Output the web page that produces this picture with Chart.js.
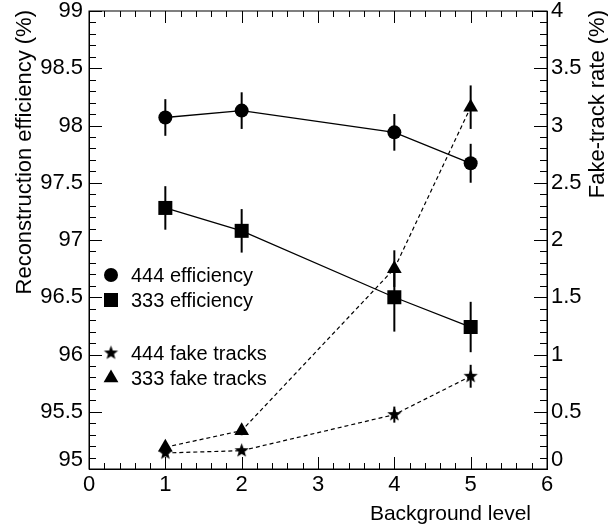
<!DOCTYPE html>
<html>
<head>
<meta charset="utf-8">
<script src="https://cdn.jsdelivr.net/npm/chart.js@4.4.1/dist/chart.umd.min.js"></script>
<style>
  html, body { margin: 0; padding: 0; background: #fff; }
  #wrap { width: 608px; height: 529px; }
</style>
</head>
<body>
<div id="wrap"><canvas id="effChart" width="608" height="529"></canvas></div>
<script>
// niveis de fundo (eixo x)
const levels = [1, 2, 4, 5];

// eficiencia de reconstrucao (%)
const eff444 = [98.07, 98.13, 97.94, 97.67];
const eff444Err = [0.16, 0.16, 0.16, 0.17];
const eff333 = [97.28, 97.08, 96.50, 96.24];
const eff333Err = [0.19, 0.19, 0.30, 0.22];

// taxa de tracks falsos (%)
const fake444 = [0.14, 0.16, 0.475, 0.81];
const fake444Err = [0.02, 0.02, 0.07, 0.10];
const fake333 = [0.19, 0.335, 1.75, 3.16];
const fake333Err = [0.03, 0.04, 0.16, 0.19];

// rotulos dos eixos
const xTickLabels = ['0', '1', '2', '3', '4', '5', '6'];
const effTickLabels = ['95', '95.5', '96', '96.5', '97', '97.5', '98', '98.5', '99'];
const fakeTickLabels = ['0', '0.5', '1', '1.5', '2', '2.5', '3', '3.5', '4'];

const FONT = '"Liberation Sans", Arial, Helvetica, sans-serif';

function toPoints(xs, ys) {
    return xs.map((x, i) => ({ x: x, y: ys[i] }));
}

// estrela preenchida (o 'star' do Chart.js e so contorno)
function makeStar(r) {
    const c = document.createElement('canvas');
    const s = Math.ceil(r * 2 + 2);
    c.width = s; c.height = s;
    const g = c.getContext('2d');
    g.fillStyle = '#000';
    g.beginPath();
    for (let k = 0; k < 10; k++) {
        const rr = k % 2 === 0 ? r : r * 0.42;
        const ang = -Math.PI / 2 + k * Math.PI / 5;
        const px = s / 2 + rr * Math.cos(ang);
        const py = s / 2 + rr * Math.sin(ang);
        if (k === 0) g.moveTo(px, py); else g.lineTo(px, py);
    }
    g.closePath();
    g.fill();
    return c;
}
const starImg = makeStar(7.5);

const datasets = [
    {
        label: '444 efficiency', data: toPoints(levels, eff444), err: eff444Err, yAxisID: 'y',
        pointStyle: 'circle', pointRadius: 7, borderWidth: 1.3, borderDash: []
    },
    {
        label: '333 efficiency', data: toPoints(levels, eff333), err: eff333Err, yAxisID: 'y',
        pointStyle: 'rect', pointRadius: 9.9, borderWidth: 1.3, borderDash: []
    },
    {
        label: '444 fake tracks', data: toPoints(levels, fake444), err: fake444Err, yAxisID: 'y2',
        pointStyle: starImg, pointRadius: 7.5, borderWidth: 1.2, borderDash: [4, 3]
    },
    {
        label: '333 fake tracks', data: toPoints(levels, fake333), err: fake333Err, yAxisID: 'y2',
        pointStyle: 'triangle', pointRadius: 8.5, borderWidth: 1.2, borderDash: [4, 3]
    }
].map(ds => Object.assign(ds, {
    borderColor: '#000', backgroundColor: '#000',
    pointBackgroundColor: '#000', pointBorderColor: '#000', pointBorderWidth: 0,
    pointHoverRadius: ds.pointRadius, showLine: true, tension: 0, fill: false
}));

// barras de erro, desenhadas antes dos marcadores
const errorBars = {
    id: 'errorBars',
    beforeDatasetsDraw(chart) {
        const ctx = chart.ctx;
        ctx.save();
        ctx.strokeStyle = '#000';
        ctx.lineWidth = 2;
        chart.data.datasets.forEach(ds => {
            const sc = chart.scales[ds.yAxisID];
            ds.data.forEach((p, i) => {
                const px = chart.scales.x.getPixelForValue(p.x);
                ctx.beginPath();
                ctx.moveTo(px, sc.getPixelForValue(p.y - ds.err[i]));
                ctx.lineTo(px, sc.getPixelForValue(p.y + ds.err[i]));
                ctx.stroke();
            });
        });
        ctx.restore();
    }
};

function drawMarker(ctx, style, x, y) {
    ctx.fillStyle = '#000';
    ctx.beginPath();
    if (style === 'circle') {
        ctx.arc(x, y, 7, 0, Math.PI * 2);
        ctx.fill();
    } else if (style === 'rect') {
        ctx.fillRect(x - 7, y - 7, 14, 14);
    } else if (style === 'triangle') {
        ctx.moveTo(x, y - 8.5);
        ctx.lineTo(x + 7.4, y + 4.25);
        ctx.lineTo(x - 7.4, y + 4.25);
        ctx.closePath();
        ctx.fill();
    } else {
        ctx.drawImage(style, x - style.width / 2, y - style.height / 2);
    }
}

// moldura com ticks para dentro, titulos, legenda
const frameDecor = {
    id: 'frameDecor',
    afterDraw(chart) {
        const { ctx, chartArea: a, scales } = chart;
        ctx.save();
        ctx.strokeStyle = '#000';
        ctx.lineWidth = 1;
        ctx.strokeRect(a.left, a.top, a.right - a.left, a.bottom - a.top);

        ctx.beginPath();
        for (let i = 0; i <= 30; i++) {
            const px = Math.round(scales.x.getPixelForValue(i * 0.2)) + 0.5;
            const len = i % 5 === 0 ? 12 : 6;
            ctx.moveTo(px, a.bottom); ctx.lineTo(px, a.bottom - len);
            ctx.moveTo(px, a.top); ctx.lineTo(px, a.top + len);
        }
        for (let i = 0; i <= 40; i++) {
            const len = i % 5 === 0 ? 13 : 7;
            const py = Math.round(scales.y.getPixelForValue(95 + i * 0.1)) + 0.5;
            ctx.moveTo(a.left, py); ctx.lineTo(a.left + len, py);
            const py2 = Math.round(scales.y2.getPixelForValue(i * 0.1)) + 0.5;
            ctx.moveTo(a.right, py2); ctx.lineTo(a.right - len, py2);
        }
        ctx.stroke();

        // rotulos do canto inferior, deslocados para cima como no original
        ctx.fillStyle = '#000';
        ctx.font = '22px ' + FONT;
        ctx.textBaseline = 'middle';
        ctx.textAlign = 'right';
        ctx.fillText(effTickLabels[0], a.left - 6, scales.y.getPixelForValue(95) - 9);
        ctx.textAlign = 'left';
        ctx.fillText(fakeTickLabels[0], a.right + 4, scales.y2.getPixelForValue(0) - 9);

        // titulos dos eixos
        ctx.font = '21px ' + FONT;
        ctx.textBaseline = 'alphabetic';
        ctx.textAlign = 'right';
        ctx.fillText('Background level', 531, 520);
        ctx.font = '22px ' + FONT;
        ctx.save();
        ctx.translate(31, 10);
        ctx.rotate(-Math.PI / 2);
        ctx.fillText('Reconstruction efficiency (%)', 0, 0);
        ctx.restore();
        ctx.save();
        ctx.translate(604, 10);
        ctx.rotate(-Math.PI / 2);
        ctx.fillText('Fake-track rate (%)', 0, 0);
        ctx.restore();

        // legenda
        const legY = [275, 300, 353, 378];
        ctx.font = '20px ' + FONT;
        ctx.textAlign = 'left';
        ctx.textBaseline = 'middle';
        chart.data.datasets.forEach((ds, i) => {
            drawMarker(ctx, ds.pointStyle, 111, legY[i]);
            ctx.fillStyle = '#000';
            ctx.fillText(ds.label, 131, legY[i] + 1);
        });
        ctx.restore();
    }
};

const ctxEff = document.getElementById('effChart');
new Chart(ctxEff, {
    type: 'line',
    data: { datasets: datasets },
    options: {
        responsive: false,
        animation: false,
        events: [],
        layout: { padding: { top: 11, left: 0, right: 0, bottom: 0 } },
        plugins: {
            legend: { display: false },
            tooltip: { enabled: false },
            title: { display: false }
        },
        scales: {
            x: {
                type: 'linear', position: 'bottom', min: 0, max: 6,
                grid: { display: false, drawTicks: false },
                border: { display: true, color: '#000', width: 1 },
                ticks: {
                    stepSize: 1, padding: 3, color: '#000', maxRotation: 0,
                    font: { family: FONT, size: 22 },
                    callback: (v, i) => xTickLabels[i]
                },
                afterFit: s => { s.height = 60; s.paddingLeft = 0; s.paddingRight = 0; }
            },
            y: {
                type: 'linear', position: 'left', min: 95, max: 99,
                grid: { display: false, drawTicks: false },
                border: { display: true, color: '#000', width: 1 },
                ticks: {
                    stepSize: 0.5, padding: 6, color: '#000',
                    font: { family: FONT, size: 22 },
                    callback: (v, i) => i === 0 ? '' : effTickLabels[i]
                },
                afterFit: s => { s.width = 89; s.paddingTop = 0; s.paddingBottom = 0; }
            },
            y2: {
                type: 'linear', position: 'right', min: 0, max: 4,
                grid: { display: false, drawTicks: false },
                border: { display: true, color: '#000', width: 1 },
                ticks: {
                    stepSize: 0.5, padding: 4, color: '#000',
                    font: { family: FONT, size: 22 },
                    callback: (v, i) => i === 0 ? '' : fakeTickLabels[i]
                },
                afterFit: s => { s.width = 61; s.paddingTop = 0; s.paddingBottom = 0; }
            }
        }
    },
    plugins: [errorBars, frameDecor]
});
</script>
</body>
</html>
